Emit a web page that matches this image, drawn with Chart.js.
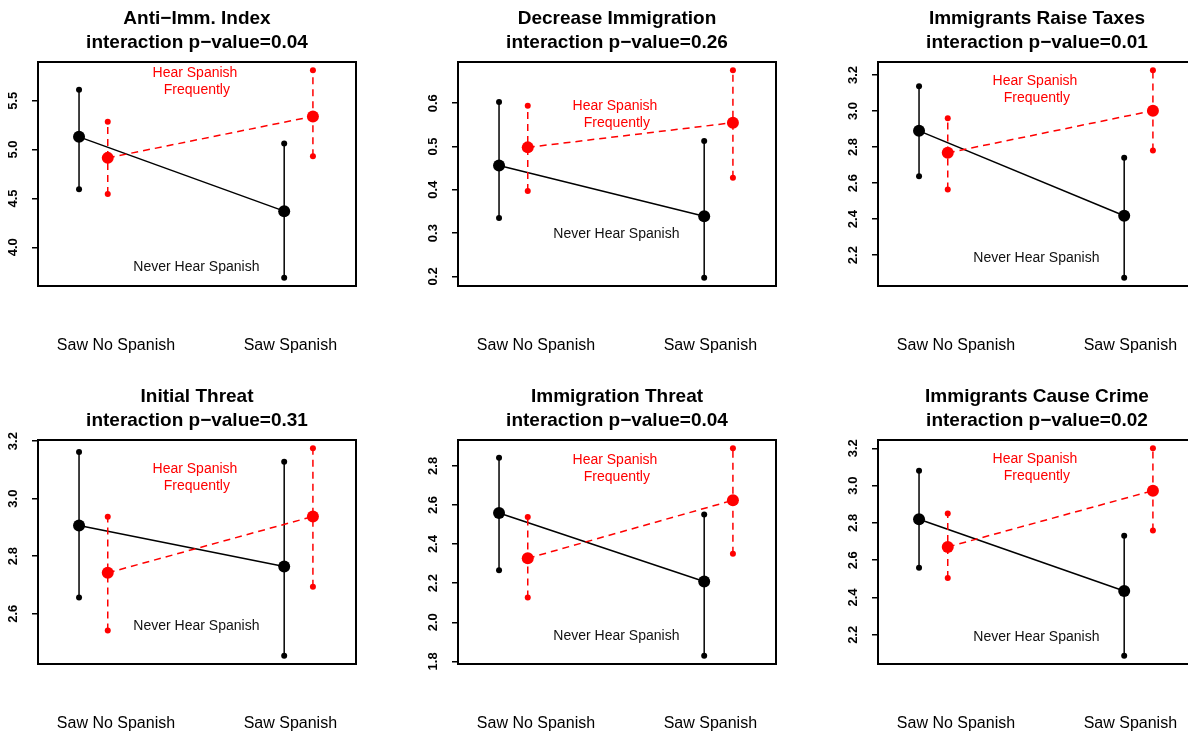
<!DOCTYPE html>
<html>
<head>
<meta charset="utf-8">
<script src="https://cdn.jsdelivr.net/npm/chart.js@4.4.1/dist/chart.umd.min.js"></script>
<style>
  html, body { margin: 0; padding: 0; background: #fff; width: 1188px; height: 736px; overflow: hidden; }
  canvas.panel { position: absolute; }
</style>
</head>
<body>
<script>
// datos: 6 paneles, 2 grupos (Saw No Spanish / Saw Spanish)
const titles = ["Anti\u2212Imm. Index", "Decrease Immigration", "Immigrants Raise Taxes",
                "Initial Threat", "Immigration Threat", "Immigrants Cause Crime"];
const pValues = ["0.04", "0.26", "0.01", "0.31", "0.04", "0.02"];
const xLabels = ["Saw No Spanish", "Saw Spanish"];
const xLabelPos = [1.18, 2.03];
const groupX = [1, 2];
const redOffset = 0.14;

// Never Hear Spanish (negro)
const neverMean = [[5.13, 4.37], [0.456, 0.339], [2.89, 2.419], [2.907, 2.764], [2.559, 2.209], [2.82, 2.435]];
const neverLo   = [[4.593, 3.689], [0.335, 0.197], [2.638, 2.075], [2.656, 2.454], [2.266, 1.829], [2.56, 2.088]];
const neverHi   = [[5.611, 5.061], [0.603, 0.513], [3.138, 2.741], [3.162, 3.128], [2.841, 2.551], [3.08, 2.731]];
// Hear Spanish Frequently (rojo)
const hearMean = [[4.915, 5.339], [0.498, 0.555], [2.768, 3.002], [2.742, 2.938], [2.327, 2.624], [2.671, 2.973]];
const hearLo   = [[4.545, 4.932], [0.397, 0.428], [2.564, 2.781], [2.542, 2.694], [2.127, 2.351], [2.505, 2.759]];
const hearHi   = [[5.285, 5.811], [0.594, 0.676], [2.96, 3.226], [2.937, 3.175], [2.538, 2.89], [2.85, 3.2]];

const yTicks = [[4.0, 4.5, 5.0, 5.5], [0.2, 0.3, 0.4, 0.5, 0.6], [2.2, 2.4, 2.6, 2.8, 3.0, 3.2],
                [2.6, 2.8, 3.0, 3.2], [1.8, 2.0, 2.2, 2.4, 2.6, 2.8], [2.2, 2.4, 2.6, 2.8, 3.0, 3.2]];

// posicion de los textos (coordenadas de datos)
const hearTextX = 1.565;
const hearTextY = [5.70, 0.5736, 3.121, 3.0727, 2.7845, 3.098];
const neverTextX = 1.572;
const neverTextY = [3.801, 0.2986, 2.184, 2.556, 1.9305, 2.189];

const FONT = "'Liberation Sans', Arial, Helvetica, sans-serif";
const RED = "#ff0000";
const BLACK = "#000000";

// marco del area de dibujo
const boxPlugin = {
  id: "box",
  afterDatasetsDraw(chart) {
    const a = chart.chartArea;
    const c = chart.ctx;
    c.save();
    c.lineWidth = 2;
    c.strokeStyle = BLACK;
    c.strokeRect(a.left, a.top, a.right - a.left, a.bottom - a.top);
    c.restore();
  }
};

function seg(x0, y0, x1, y1, color, dash, radius) {
  return {
    data: [{ x: x0, y: y0 }, { x: x1, y: y1 }],
    borderColor: color,
    borderWidth: 1.5,
    borderDash: dash,
    pointRadius: radius,
    pointBackgroundColor: color,
    pointBorderWidth: 0,
    fill: false,
    tension: 0
  };
}

function makeChart(i) {
  const cv = document.createElement("canvas");
  cv.width = 420;
  cv.height = 378;
  cv.className = "panel";
  cv.style.left = (i % 3) * 420 + "px";
  cv.style.top = Math.floor(i / 3) * 378 + "px";
  document.body.appendChild(cv);

  // limites como R: rango de los datos + 4%
  const all = neverLo[i].concat(neverHi[i], hearLo[i], hearHi[i]);
  const lo = Math.min(...all), hi = Math.max(...all);
  const pad = (hi - lo) * 0.04;

  const hx = groupX.map(x => x + redOffset);
  const dash = [7, 5];
  const datasets = [
    seg(hx[0], hearMean[i][0], hx[1], hearMean[i][1], RED, dash, 6),
    seg(hx[0], hearLo[i][0], hx[0], hearHi[i][0], RED, dash, 3),
    seg(hx[1], hearLo[i][1], hx[1], hearHi[i][1], RED, dash, 3),
    seg(groupX[0], neverMean[i][0], groupX[1], neverMean[i][1], BLACK, [], 6),
    seg(groupX[0], neverLo[i][0], groupX[0], neverHi[i][0], BLACK, [], 3),
    seg(groupX[1], neverLo[i][1], groupX[1], neverHi[i][1], BLACK, [], 3)
  ];

  const notes = {
    id: "notes" + i,
    afterDatasetsDraw(chart) {
      const c = chart.ctx;
      const sx = chart.scales.x, sy = chart.scales.y;
      c.save();
      c.font = "14px " + FONT;
      c.textAlign = "center";
      c.textBaseline = "middle";
      const hxp = sx.getPixelForValue(hearTextX);
      const hyp = sy.getPixelForValue(hearTextY[i]);
      c.fillStyle = RED;
      c.fillText("Hear Spanish", hxp, hyp - 8.5);
      c.fillText(" Frequently", hxp, hyp + 8.5);
      c.fillStyle = "#111";
      c.fillText("Never Hear Spanish", sx.getPixelForValue(neverTextX), sy.getPixelForValue(neverTextY[i]));
      c.restore();
    }
  };

  new Chart(cv.getContext("2d"), {
    type: "line",
    data: { datasets },
    options: {
      animation: false,
      responsive: false,
      events: [],
      layout: { padding: { left: 0, right: 64, top: 0, bottom: 0 } },
      plugins: {
        legend: { display: false },
        tooltip: { enabled: false },
        title: {
          display: true,
          fullSize: false,
          text: [titles[i], "interaction p\u2212value=" + pValues[i]],
          color: BLACK,
          font: { family: FONT, size: 19, weight: "bold", lineHeight: "24px" },
          padding: { top: 7, bottom: 7 }
        }
      },
      scales: {
        x: {
          type: "linear",
          min: 0.8,
          max: 2.35,
          afterBuildTicks: s => { s.ticks = xLabelPos.map(v => ({ value: v })); },
          afterFit: s => { s.height = 92; },
          grid: { display: false },
          border: { display: false },
          ticks: {
            autoSkip: false, minRotation: 0, maxRotation: 0, padding: 42,
            color: BLACK, font: { family: FONT, size: 16 },
            callback: (v, idx) => xLabels[idx]
          }
        },
        y: {
          type: "linear",
          min: lo - pad,
          max: hi + pad,
          afterBuildTicks: s => { s.ticks = yTicks[i].map(v => ({ value: v })); },
          afterFit: s => { s.width = 38; },
          grid: { display: true, drawOnChartArea: false, drawTicks: true, tickLength: 6, color: BLACK, lineWidth: 1.5 },
          border: { display: false },
          ticks: {
            autoSkip: false, minRotation: 90, maxRotation: 90, crossAlign: "center", padding: 10,
            color: BLACK, font: { family: FONT, size: 13, weight: "bold" },
            callback: v => v.toFixed(1)
          }
        }
      }
    },
    plugins: [boxPlugin, notes]
  });
}

for (let i = 0; i < titles.length; i++) makeChart(i);
</script>
</body>
</html>
